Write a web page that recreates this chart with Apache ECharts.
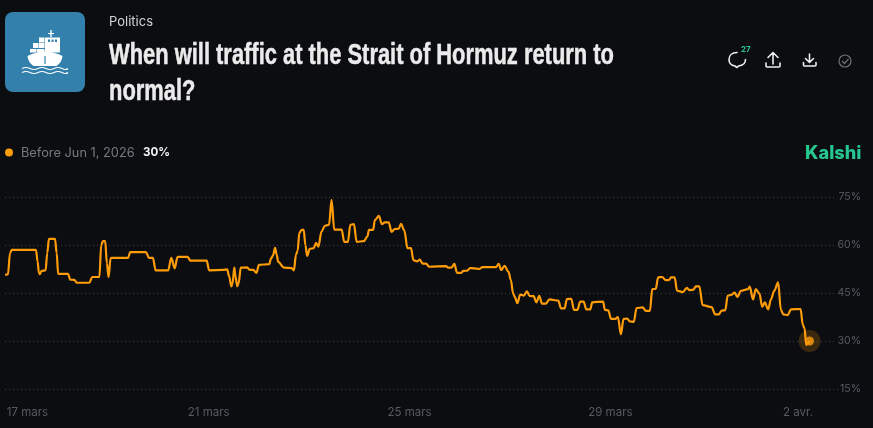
<!DOCTYPE html>
<html>
<head>
<meta charset="utf-8">
<script src="https://cdn.jsdelivr.net/npm/echarts@6/dist/echarts.min.js"></script>
<style>
html, body { margin: 0; padding: 0; background: #0b0d11; }
#main { width: 873px; height: 428px; }
</style>
</head>
<body>
<div id="main"></div>
<script>
// hours since 17 mars 00:00
var hours = [-1.4,0,1,1.9,13.4,14.2,14.8,15.3,16.1,18,18.8,19.6,22.5,23.3,24,28.7,29.8,31.7,33,38.9,40.3,43.7,44.6,45.4,46.5,47.3,48.1,49.1,49.7,57.4,58.5,66,67.4,69.3,70.6,76.6,78.1,79.7,81.1,85.9,87.2,95,96.2,102.9,104.8,105.8,106.8,107.4,108.2,108.8,109.6,110.3,111.3,114.4,115.4,117.3,118.8,120,124.9,125.8,126.7,127.7,128.5,129.2,132,135.6,136.7,137.7,138.5,139.3,140.5,141.4,142.2,143,144.3,146.2,147.3,148.4,149.9,151.5,153.5,154.7,156,159.5,160.8,162.5,163.7,165.4,166.7,170.1,171.8,172.6,174.6,175.4,177.3,178.8,180.1,182,183.4,184.9,186.8,187.9,189.5,191,192.7,193.8,195.7,196.9,198.3,199.9,201.3,209.4,210.5,212.1,213.4,214.7,216.7,217.7,219.6,220.9,222.8,225.3,226.9,233.3,234.6,235.8,237.4,239.3,240.4,241.5,242.3,243.5,244.9,246.6,248.1,249.4,251.3,252.6,254,255.3,257.2,258.8,263.1,264.4,266.1,267.2,269.3,270.6,272.2,273.6,275.2,276.5,278.4,279.3,284.5,285.4,287,288.3,290.3,291.6,293,294.3,296,297.3,299.2,300.5,303.4,305,306.9,308,309.7,310.8,312.7,314.5,316.1,317,318.7,319.9,322.6,324.6,325.7,327.6,328.9,330.5,332.1,336.4,338.1,339.8,341.2,342.9,344.1,345.8,347.4,348.7,350.4,353.8,354.6,356.2,357.5,359.2,360.6,361.8,363.4,364.8,366.3,368.2,369.5,370.7,372.8,374.3,378.9,380,380.8,381.6,383.2];
var values = [50.7,50.8,57.5,58.5,58.5,54.8,51.3,50.9,51.9,52.1,57.5,61.9,61.9,57.5,51,51,49.2,49.1,48.2,48.2,50,50,60,61.2,61.2,54.3,50,55.9,56,56,57.8,57.8,56,56,52.1,52.1,56,52.7,56.3,56.3,55.1,55.1,52.1,52.2,52.4,50.1,47.1,48,52.9,50.1,47.1,48.1,52.9,53,52.3,52.2,51.3,53.8,54,55.8,56.7,59.1,56.9,54.7,52.9,52.8,52.1,56.9,58.2,63.8,64.7,64.7,60,56.6,58.8,59,60.7,59.5,64.2,66,66.3,74.1,64.8,64.8,61,61,66.3,66.5,61,61.2,62.6,64.7,64.7,67.8,69.1,66.5,67.1,67.1,64.1,65,65.1,66.6,64.5,59,59,55.3,54.9,55.4,54.2,54.2,53.2,53.4,52.9,53,54.1,51.3,51.3,51.9,52,52.8,52.7,52.5,53.1,53.1,54.1,52.2,53.5,51.6,49.1,44.9,43.8,41.8,44.5,44.2,45.5,44.1,44,42.1,44.1,41.7,41.7,43,42.6,40.2,40.2,43.1,43.2,39.7,39.7,42.3,42.3,39.9,39.9,42.1,42.3,39.7,39.6,36.9,36.9,37.5,32.1,36.9,37,36.1,36,40.3,40.5,39.4,39.4,46.2,46.3,49.9,50,49,49.1,49.9,49.9,45.7,45.3,46.6,45.9,46,47.1,47.1,41.2,40.6,38.3,38.3,39.5,39.6,44.2,44.4,45.1,43.8,45.7,46.2,47,43,46.2,44.9,40.7,42.1,39.9,43.1,45.7,48.3,39.7,38.3,38.1,39.9,40,35,34,28.8,30];

var tickHours = [9.3, 96, 192, 288, 377.7]; // first and last sit inside the plot
var tickLabels = ['17 mars', '21 mars', '25 mars', '29 mars', '2 avr.'];

var orange = '#ff9c0a';
var tileBlue = '#3480ac';
var uiFont = 'Inter, "Noto Sans", sans-serif';
var titleFont = 'bold 30px "Liberation Sans", sans-serif';

var lineData = [];
for (var i = 0; i < hours.length; i++) {
    lineData.push([hours[i], values[i]]);
}
var lastPoint = lineData[lineData.length - 1];

var iconStroke = { stroke: '#eeeeee', lineWidth: 1.6, fill: 'none', lineCap: 'round', lineJoin: 'round' };
var waveStroke = { stroke: '#fff', lineWidth: 1.2, fill: 'none' };
var shapeCount = 0;

// graphic has no svg path type, so every icon path gets its own shape class
function rawIcon(d, style) {
    var name = 'icon' + (shapeCount++);
    echarts.graphic.registerShape(name, echarts.graphic.extendPath(d, {}));
    return { type: name, style: style };
}
function box(x, y, w, h, fill) {
    return { type: 'rect', shape: { x: x, y: y, width: w, height: h }, style: { fill: fill || '#fff' } };
}

var headerGraphic = [
    // category tile
    { type: 'rect', shape: { x: 5, y: 12, width: 80, height: 80, r: 8 }, style: { fill: tileBlue } },
    // ship
    box(50.3, 30, 1.4, 7), box(48, 33, 6, 1.1),
    box(45, 37.5, 15, 15),
    box(48, 39.5, 2, 2.5, tileBlue), box(51.5, 39.5, 2, 2.5, tileBlue), box(55, 39.5, 2, 2.5, tileBlue),
    box(39, 37.5, 5.5, 5), box(33, 43, 5.5, 5), box(39, 43, 5.5, 5), box(30, 49, 6.5, 3.5), box(37, 49, 7.5, 3.5),
    rawIcon('M27.5 56 Q45 47 62.5 56 Q62 62 56.5 66 L33.5 66 Q28 62 27.5 56 Z', { fill: '#fff' }),
    box(44.4, 56, 1.2, 8, tileBlue),
    rawIcon('M22 68.5 Q26 66.5 30 68.5 T38 68.5 T46 68.5 T54 68.5 T62 68.5 T68 68.5', waveStroke),
    rawIcon('M22 72.5 Q26 70.5 30 72.5 T38 72.5 T46 72.5 T54 72.5 T62 72.5 T68 72.5', waveStroke),

    { type: 'text', x: 109, y: 15.5, style: { text: 'Politics', fill: '#d4d4d4', font: '13px ' + uiFont } },
    { type: 'text', x: 109, y: 40.5, scaleX: 0.73, style: { text: 'When will traffic at the Strait of Hormuz return to', fill: '#ebebeb', stroke: '#ebebeb', lineWidth: 0.5, font: titleFont } },
    { type: 'text', x: 109, y: 76.5, scaleX: 0.73, style: { text: 'normal?', fill: '#ebebeb', stroke: '#ebebeb', lineWidth: 0.5, font: titleFont } },

    // legend
    { type: 'circle', shape: { cx: 9, cy: 152.5, r: 4 }, style: { fill: orange } },
    { type: 'text', x: 21, y: 146.5, style: { text: 'Before Jun 1, 2026', fill: '#77797e', font: '12.8px ' + uiFont } },
    { type: 'text', x: 143, y: 146.5, style: { text: '30%', fill: '#f2f2f2', font: 'bold 11.6px ' + uiFont } },
    { type: 'text', x: 805, y: 144.5, style: { text: 'Kalshi', fill: '#28c68f', font: '800 18.2px ' + uiFont } },

    // toolbar icons
    rawIcon('M737 52.5 C732 52.5 729 55.5 729 59.5 C729 63.5 731.5 65.5 735 66 L737 67.5 L738.5 66 C742.5 65.5 745.5 63.5 745.5 59.5', iconStroke),
    { type: 'text', x: 741, y: 46, style: { text: '27', fill: '#28c68f', font: 'bold 8px ' + uiFont } },
    rawIcon('M773 64 L773 53 M768 57.5 L773 52.5 L778 57.5 M766 63 L766 66 Q766 67 767 67 L779 67 Q780 67 780 66 L780 63', iconStroke),
    rawIcon('M809.5 54 L809.5 62 M805.5 58.5 L809.5 62.5 L813.5 58.5 M803.5 62.5 L803.5 65 Q803.5 66 804.5 66 L815 66 Q816 66 816 65 L816 62.5', iconStroke),
    { type: 'circle', shape: { cx: 845, cy: 61, r: 6 }, style: { fill: 'none', stroke: '#707276', lineWidth: 1.2 } },
    rawIcon('M842 61 L844.5 63.5 L848.5 58.8', { fill: 'none', stroke: '#707276', lineWidth: 1.2 })
];

var chart = echarts.init(document.getElementById('main'), null, { renderer: 'canvas' });

chart.setOption({
    backgroundColor: '#0b0d11',
    animation: false,
    graphic: headerGraphic,
    grid: { left: 5, right: 12, top: 197, bottom: 39 },
    xAxis: {
        type: 'value',
        min: -1.4,
        max: 407.8,
        axisLine: { show: false },
        axisTick: { show: false },
        splitLine: { show: false },
        axisLabel: {
            customValues: tickHours,
            formatter: function (value, index) { return tickLabels[tickHours.indexOf(value)]; },
            color: '#595b60',
            fontFamily: uiFont,
            fontSize: 11.5,
            margin: 18
        }
    },
    yAxis: {
        type: 'value',
        position: 'right',
        min: 15,
        max: 75,
        interval: 15,
        axisLine: { show: false },
        axisTick: { show: false },
        splitLine: { lineStyle: { color: '#3b3e43', width: 1, type: [1, 3] } },
        axisLabel: {
            inside: true,
            margin: 0,
            formatter: '{value}%',
            color: '#595b60',
            fontFamily: uiFont,
            fontSize: 10.5,
            backgroundColor: '#0b0d11',
            padding: [3, 0, 0, 2]
        },
        z: 3
    },
    series: [
        {
            type: 'line',
            name: 'Before Jun 1, 2026',
            data: lineData,
            showSymbol: false,
            smooth: 0.35,
            smoothMonotone: 'x',
            lineStyle: { color: orange, width: 2.2, join: 'round' },
            clip: false,
            z: 4
        },
        {
            type: 'scatter',
            data: [lastPoint],
            symbolSize: 22,
            itemStyle: { color: orange, opacity: 0.2 },
            z: 3,
            silent: true
        },
        {
            type: 'scatter',
            data: [lastPoint],
            symbolSize: 9,
            itemStyle: { color: orange },
            z: 5,
            silent: true
        }
    ]
});
</script>
</body>
</html>
